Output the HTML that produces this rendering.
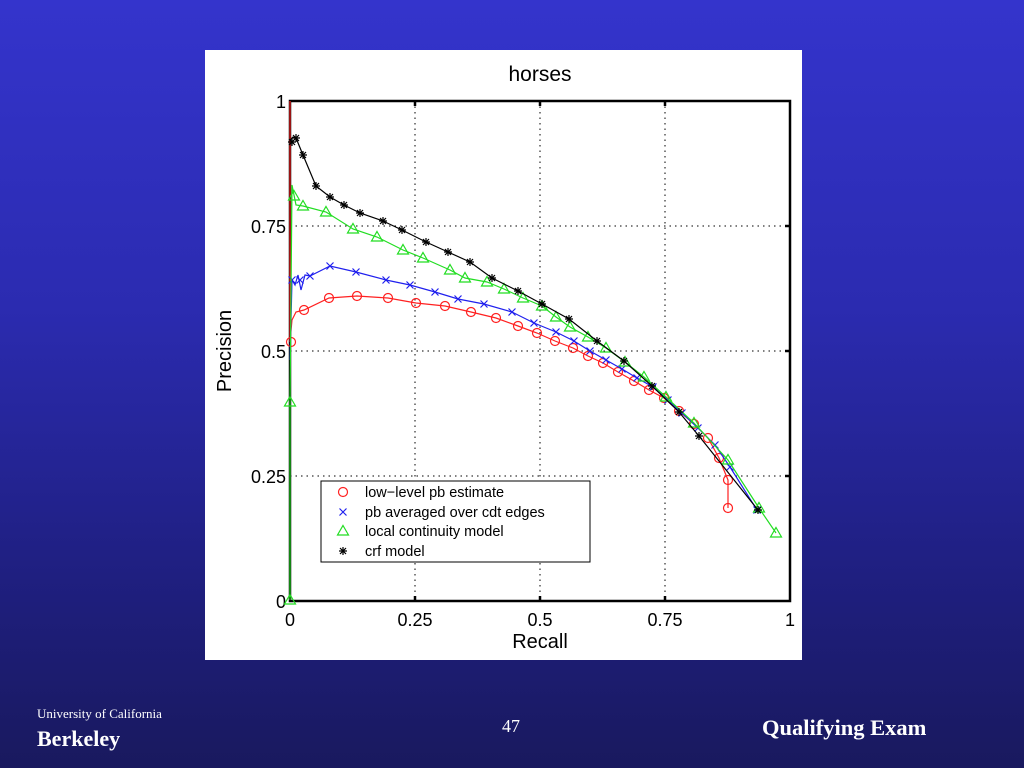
<!DOCTYPE html>
<html><head><meta charset="utf-8"><style>
html,body{margin:0;padding:0;width:1024px;height:768px;overflow:hidden}
body{background:linear-gradient(#3434cc 0%,#2b2bb0 40%,#1f1f80 75%,#19195e 100%);position:relative;font-family:"Liberation Serif",serif;color:#fff}
.t{position:absolute;white-space:nowrap}
</style></head><body>
<svg width="1024" height="768" style="position:absolute;left:0;top:0" font-family="Liberation Sans, sans-serif">
<rect x="205" y="50" width="597" height="610" fill="#fff"/>
<g stroke="#000" stroke-width="1" stroke-dasharray="1.5,4">
<line x1="415" y1="101" x2="415" y2="601"/><line x1="540" y1="101" x2="540" y2="601"/><line x1="665" y1="101" x2="665" y2="601"/>
<line x1="290" y1="226" x2="790" y2="226"/><line x1="290" y1="351" x2="790" y2="351"/><line x1="290" y1="476" x2="790" y2="476"/>
</g>
<rect x="290" y="101" width="500" height="500" fill="none" stroke="#000" stroke-width="2.5"/>
<g stroke="#000" stroke-width="2.5">
<line x1="415" y1="101" x2="415" y2="106"/><line x1="540" y1="101" x2="540" y2="106"/><line x1="665" y1="101" x2="665" y2="106"/>
<line x1="415" y1="601" x2="415" y2="596"/><line x1="540" y1="601" x2="540" y2="596"/><line x1="665" y1="601" x2="665" y2="596"/>
<line x1="785" y1="226" x2="790" y2="226"/><line x1="785" y1="351" x2="790" y2="351"/><line x1="785" y1="476" x2="790" y2="476"/>
</g>
<text x="540" y="81" font-size="21" text-anchor="middle">horses</text>
<g font-size="18" text-anchor="end">
<text x="286" y="108">1</text><text x="286" y="233">0.75</text><text x="286" y="358">0.5</text><text x="286" y="483">0.25</text><text x="286" y="608">0</text>
</g>
<g font-size="18" text-anchor="middle">
<text x="290" y="626">0</text><text x="415" y="626">0.25</text><text x="540" y="626">0.5</text><text x="665" y="626">0.75</text><text x="790" y="626">1</text>
<text x="540" y="648" font-size="20">Recall</text>
</g>
<text transform="translate(231,351) rotate(-90)" font-size="20" text-anchor="middle">Precision</text>
<g id="series" fill="none" stroke-width="1.2"></g>
<rect x="321" y="481" width="269" height="81" fill="#fff" stroke="#000" stroke-width="1"/>
<g font-size="14.5">
<text x="365" y="497">low−level pb estimate</text>
<text x="365" y="517">pb averaged over cdt edges</text>
<text x="365" y="536">local continuity model</text>
<text x="365" y="556">crf model</text>
</g>
<g id="leg" fill="none" stroke-width="1.2"></g>
</svg>
<div class="t" style="left:37px;top:706px;font-size:13px">University of California</div>
<div class="t" style="left:37px;top:726px;font-size:22px;font-weight:bold">Berkeley</div>
<div class="t" style="left:502px;top:716px;font-size:18px">47</div>
<div class="t" style="left:762px;top:715px;font-size:22.5px;font-weight:bold">Qualifying Exam</div>
<script>
var NS="http://www.w3.org/2000/svg";
function el(p,t,a){var e=document.createElementNS(NS,t);for(var k in a)e.setAttribute(k,a[k]);p.appendChild(e);return e;}
function mk(g,type,x,y,c){
 if(type=="o")el(g,"circle",{cx:x,cy:y,r:4.5,stroke:c});
 else if(type=="x"){el(g,"path",{d:"M"+(x-3.5)+","+(y-3.5)+"l7,7M"+(x-3.5)+","+(y+3.5)+"l7,-7",stroke:c});}
 else if(type=="t")el(g,"path",{d:"M"+x+","+(y-5.5)+"L"+(x+5.5)+","+(y+4)+"L"+(x-5.5)+","+(y+4)+"Z",stroke:c});
 else {el(g,"path",{d:"M"+(x-4)+","+y+"h8M"+x+","+(y-4)+"v8M"+(x-3)+","+(y-3)+"l6,6M"+(x-3)+","+(y+3)+"l6,-6",stroke:c});}
}
var S=document.getElementById("series");
var red=[[291,342],[304,310],[329,298],[357,296],[388,298],[416,303],[445,306],[471,312],[496,318],[518,326],[537,333],[555,341],[573,348],[588,356],[603,363],[618,372],[634,381],[649,390],[664,398],[679,411],[694,424],[708,438],[719,458],[728,480],[728,508]];
var blue=[[292,280],[300,280],[310,276],[330,266],[356,272],[386,280],[410,285],[435,292],[458,299],[484,304],[512,312],[534,323],[556,332],[574,341],[590,351],[606,360],[622,369],[637,378],[653,387],[668,400],[682,413],[698,428],[715,445],[730,467],[757,510]];
var green=[[290,402],[294,196],[303,206],[326,212],[353,229],[377,237],[403,250],[423,258],[450,270],[465,278],[487,282],[504,289],[523,298],[542,306],[556,317],[570,327],[588,337],[606,348],[625,362],[644,377],[666,397],[694,423],[728,460],[759,508],[776,533]];
var black=[[292,142],[296,138],[303,155],[316,186],[330,197],[344,205],[360,213],[383,221],[402,230],[426,242],[448,252],[470,262],[492,278],[518,291],[542,304],[569,319],[597,341],[624,361],[652,386],[679,412],[699,436],[758,510]];
var data=[
{c:"#ff2020",m:"o",line:[[290,101],[290,342],[292,320],[296,312]].concat(red.slice(1)),pts:red},
{c:"#2020ee",m:"x",line:[[290,360],[292,280],[295,285],[298,275],[301,290],[305,275]].concat(blue.slice(2)),pts:blue},
{c:"#22dd22",m:"t",line:[[290,600],[290,402],[292,185],[296,205]].concat(green.slice(2)),pts:green.concat([[290,600]])},
{c:"#000",m:"s",line:[[290,140],[293,137]].concat(black.slice(1)),pts:black}
];
data.forEach(function(d){
 el(S,"polyline",{points:d.line.map(function(p){return p.join(",")}).join(" "),stroke:d.c});
 d.pts.forEach(function(p){mk(S,d.m,p[0],p[1],d.c)});
});
var L=document.getElementById("leg");
mk(L,"o",343,492,"#ff2020");mk(L,"x",343,512,"#2020ee");mk(L,"t",343,531,"#22dd22");mk(L,"s",343,551,"#000");
</script>
</body></html>
